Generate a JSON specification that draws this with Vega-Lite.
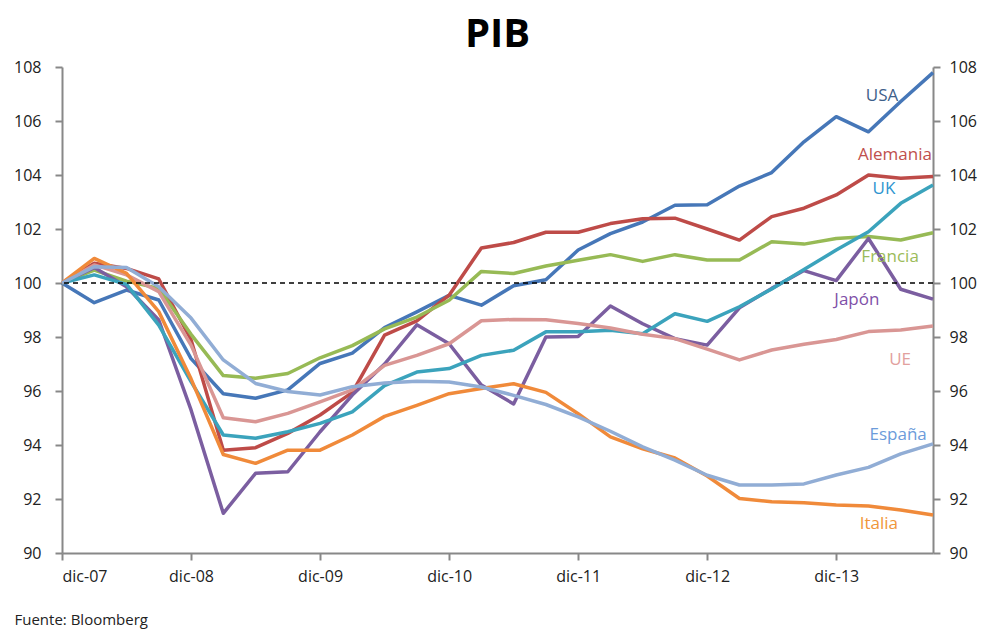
{
  "$schema": "https://vega.github.io/schema/vega-lite/v6.json",
  "width": 871,
  "height": 486,
  "autosize": "none",
  "padding": {"left": 62, "top": 67, "right": 53, "bottom": 78},
  "background": "white",
  "title": {"text": "PIB", "font": "Open Sans", "fontSize": 40, "fontWeight": "bold", "color": "#000000", "anchor": "middle", "offset": 4},
  "config": {"view": {"stroke": null}, "font": "Open Sans"},
  "datasets": {
    "pib": [
      {"p":"USA","i":0,"v":100},{"p":"USA","i":1,"v":99.27},{"p":"USA","i":2,"v":99.74},{"p":"USA","i":3,"v":99.37},{"p":"USA","i":4,"v":97.2},{"p":"USA","i":5,"v":95.9},{"p":"USA","i":6,"v":95.73},{"p":"USA","i":7,"v":96.04},{"p":"USA","i":8,"v":97.02},{"p":"USA","i":9,"v":97.4},{"p":"USA","i":10,"v":98.35},{"p":"USA","i":11,"v":98.93},{"p":"USA","i":12,"v":99.54},{"p":"USA","i":13,"v":99.18},{"p":"USA","i":14,"v":99.9},{"p":"USA","i":15,"v":100.12},{"p":"USA","i":16,"v":101.22},{"p":"USA","i":17,"v":101.83},{"p":"USA","i":18,"v":102.26},{"p":"USA","i":19,"v":102.88},{"p":"USA","i":20,"v":102.9},{"p":"USA","i":21,"v":103.59},{"p":"USA","i":22,"v":104.09},{"p":"USA","i":23,"v":105.23},{"p":"USA","i":24,"v":106.16},{"p":"USA","i":25,"v":105.6},{"p":"USA","i":26,"v":106.72},{"p":"USA","i":27,"v":107.79},
      {"p":"Alemania","i":0,"v":100},{"p":"Alemania","i":1,"v":100.73},{"p":"Alemania","i":2,"v":100.54},{"p":"Alemania","i":3,"v":100.15},{"p":"Alemania","i":4,"v":97.9},{"p":"Alemania","i":5,"v":93.81},{"p":"Alemania","i":6,"v":93.9},{"p":"Alemania","i":7,"v":94.43},{"p":"Alemania","i":8,"v":95.11},{"p":"Alemania","i":9,"v":95.95},{"p":"Alemania","i":10,"v":98.07},{"p":"Alemania","i":11,"v":98.6},{"p":"Alemania","i":12,"v":99.55},{"p":"Alemania","i":13,"v":101.3},{"p":"Alemania","i":14,"v":101.5},{"p":"Alemania","i":15,"v":101.88},{"p":"Alemania","i":16,"v":101.88},{"p":"Alemania","i":17,"v":102.2},{"p":"Alemania","i":18,"v":102.38},{"p":"Alemania","i":19,"v":102.4},{"p":"Alemania","i":20,"v":102.0},{"p":"Alemania","i":21,"v":101.59},{"p":"Alemania","i":22,"v":102.46},{"p":"Alemania","i":23,"v":102.77},{"p":"Alemania","i":24,"v":103.26},{"p":"Alemania","i":25,"v":104.0},{"p":"Alemania","i":26,"v":103.88},{"p":"Alemania","i":27,"v":103.94},
      {"p":"Francia","i":0,"v":100},{"p":"Francia","i":1,"v":100.48},{"p":"Francia","i":2,"v":100.07},{"p":"Francia","i":3,"v":99.8},{"p":"Francia","i":4,"v":98.1},{"p":"Francia","i":5,"v":96.57},{"p":"Francia","i":6,"v":96.47},{"p":"Francia","i":7,"v":96.65},{"p":"Francia","i":8,"v":97.23},{"p":"Francia","i":9,"v":97.68},{"p":"Francia","i":10,"v":98.3},{"p":"Francia","i":11,"v":98.74},{"p":"Francia","i":12,"v":99.36},{"p":"Francia","i":13,"v":100.43},{"p":"Francia","i":14,"v":100.35},{"p":"Francia","i":15,"v":100.63},{"p":"Francia","i":16,"v":100.84},{"p":"Francia","i":17,"v":101.05},{"p":"Francia","i":18,"v":100.8},{"p":"Francia","i":19,"v":101.05},{"p":"Francia","i":20,"v":100.85},{"p":"Francia","i":21,"v":100.85},{"p":"Francia","i":22,"v":101.53},{"p":"Francia","i":23,"v":101.44},{"p":"Francia","i":24,"v":101.65},{"p":"Francia","i":25,"v":101.72},{"p":"Francia","i":26,"v":101.59},{"p":"Francia","i":27,"v":101.86},
      {"p":"Japón","i":0,"v":100},{"p":"Japón","i":1,"v":100.57},{"p":"Japón","i":2,"v":99.86},{"p":"Japón","i":3,"v":98.63},{"p":"Japón","i":4,"v":95.3},{"p":"Japón","i":5,"v":91.47},{"p":"Japón","i":6,"v":92.95},{"p":"Japón","i":7,"v":93.01},{"p":"Japón","i":8,"v":94.49},{"p":"Japón","i":9,"v":95.85},{"p":"Japón","i":10,"v":97.0},{"p":"Japón","i":11,"v":98.45},{"p":"Japón","i":12,"v":97.75},{"p":"Japón","i":13,"v":96.22},{"p":"Japón","i":14,"v":95.52},{"p":"Japón","i":15,"v":98.0},{"p":"Japón","i":16,"v":98.02},{"p":"Japón","i":17,"v":99.15},{"p":"Japón","i":18,"v":98.49},{"p":"Japón","i":19,"v":97.94},{"p":"Japón","i":20,"v":97.7},{"p":"Japón","i":21,"v":99.08},{"p":"Japón","i":22,"v":99.8},{"p":"Japón","i":23,"v":100.46},{"p":"Japón","i":24,"v":100.09},{"p":"Japón","i":25,"v":101.65},{"p":"Japón","i":26,"v":99.77},{"p":"Japón","i":27,"v":99.4},
      {"p":"UK","i":0,"v":100},{"p":"UK","i":1,"v":100.3},{"p":"UK","i":2,"v":99.95},{"p":"UK","i":3,"v":98.44},{"p":"UK","i":4,"v":96.35},{"p":"UK","i":5,"v":94.37},{"p":"UK","i":6,"v":94.25},{"p":"UK","i":7,"v":94.49},{"p":"UK","i":8,"v":94.8},{"p":"UK","i":9,"v":95.23},{"p":"UK","i":10,"v":96.2},{"p":"UK","i":11,"v":96.7},{"p":"UK","i":12,"v":96.83},{"p":"UK","i":13,"v":97.32},{"p":"UK","i":14,"v":97.51},{"p":"UK","i":15,"v":98.19},{"p":"UK","i":16,"v":98.19},{"p":"UK","i":17,"v":98.25},{"p":"UK","i":18,"v":98.12},{"p":"UK","i":19,"v":98.86},{"p":"UK","i":20,"v":98.58},{"p":"UK","i":21,"v":99.12},{"p":"UK","i":22,"v":99.78},{"p":"UK","i":23,"v":100.5},{"p":"UK","i":24,"v":101.22},{"p":"UK","i":25,"v":101.9},{"p":"UK","i":26,"v":102.95},{"p":"UK","i":27,"v":103.63},
      {"p":"UE","i":0,"v":100},{"p":"UE","i":1,"v":100.67},{"p":"UE","i":2,"v":100.3},{"p":"UE","i":3,"v":99.68},{"p":"UE","i":4,"v":97.7},{"p":"UE","i":5,"v":95.01},{"p":"UE","i":6,"v":94.86},{"p":"UE","i":7,"v":95.17},{"p":"UE","i":8,"v":95.6},{"p":"UE","i":9,"v":96.04},{"p":"UE","i":10,"v":96.95},{"p":"UE","i":11,"v":97.32},{"p":"UE","i":12,"v":97.75},{"p":"UE","i":13,"v":98.6},{"p":"UE","i":14,"v":98.65},{"p":"UE","i":15,"v":98.64},{"p":"UE","i":16,"v":98.5},{"p":"UE","i":17,"v":98.33},{"p":"UE","i":18,"v":98.1},{"p":"UE","i":19,"v":97.94},{"p":"UE","i":20,"v":97.55},{"p":"UE","i":21,"v":97.15},{"p":"UE","i":22,"v":97.52},{"p":"UE","i":23,"v":97.73},{"p":"UE","i":24,"v":97.91},{"p":"UE","i":25,"v":98.2},{"p":"UE","i":26,"v":98.26},{"p":"UE","i":27,"v":98.41},
      {"p":"Italia","i":0,"v":100},{"p":"Italia","i":1,"v":100.91},{"p":"Italia","i":2,"v":100.36},{"p":"Italia","i":3,"v":98.94},{"p":"Italia","i":4,"v":96.45},{"p":"Italia","i":5,"v":93.65},{"p":"Italia","i":6,"v":93.32},{"p":"Italia","i":7,"v":93.81},{"p":"Italia","i":8,"v":93.81},{"p":"Italia","i":9,"v":94.37},{"p":"Italia","i":10,"v":95.06},{"p":"Italia","i":11,"v":95.47},{"p":"Italia","i":12,"v":95.9},{"p":"Italia","i":13,"v":96.09},{"p":"Italia","i":14,"v":96.27},{"p":"Italia","i":15,"v":95.95},{"p":"Italia","i":16,"v":95.16},{"p":"Italia","i":17,"v":94.3},{"p":"Italia","i":18,"v":93.86},{"p":"Italia","i":19,"v":93.52},{"p":"Italia","i":20,"v":92.85},{"p":"Italia","i":21,"v":92.02},{"p":"Italia","i":22,"v":91.9},{"p":"Italia","i":23,"v":91.86},{"p":"Italia","i":24,"v":91.78},{"p":"Italia","i":25,"v":91.74},{"p":"Italia","i":26,"v":91.59},{"p":"Italia","i":27,"v":91.41},
      {"p":"España","i":0,"v":100},{"p":"España","i":1,"v":100.6},{"p":"España","i":2,"v":100.57},{"p":"España","i":3,"v":99.86},{"p":"España","i":4,"v":98.7},{"p":"España","i":5,"v":97.15},{"p":"España","i":6,"v":96.28},{"p":"España","i":7,"v":95.98},{"p":"España","i":8,"v":95.85},{"p":"España","i":9,"v":96.16},{"p":"España","i":10,"v":96.3},{"p":"España","i":11,"v":96.36},{"p":"España","i":12,"v":96.33},{"p":"España","i":13,"v":96.15},{"p":"España","i":14,"v":95.84},{"p":"España","i":15,"v":95.5},{"p":"España","i":16,"v":95.04},{"p":"España","i":17,"v":94.51},{"p":"España","i":18,"v":93.93},{"p":"España","i":19,"v":93.44},{"p":"España","i":20,"v":92.88},{"p":"España","i":21,"v":92.52},{"p":"España","i":22,"v":92.52},{"p":"España","i":23,"v":92.56},{"p":"España","i":24,"v":92.89},{"p":"España","i":25,"v":93.17},{"p":"España","i":26,"v":93.67},{"p":"España","i":27,"v":94.04}
    ],
    "labels": [
      {"p":"USA","i":25.42,"v":106.93},
      {"p":"Alemania","i":25.82,"v":104.74},
      {"p":"UK","i":25.48,"v":103.48},
      {"p":"Francia","i":25.67,"v":100.96},
      {"p":"Japón","i":24.64,"v":99.37},
      {"p":"UE","i":25.98,"v":97.15},
      {"p":"España","i":25.92,"v":94.37},
      {"p":"Italia","i":25.32,"v":91.07}
    ],
    "ref": [{"v": 100}]
  },
  "layer": [
    {
      "data": {"name": "pib"},
      "mark": {"type": "line", "strokeWidth": 3.5, "strokeJoin": "round"},
      "encoding": {
        "x": {"field": "i", "type": "quantitative", "scale": {"domain": [0, 27], "nice": false, "zero": false},
          "axis": {"values": [0, 4, 8, 12, 16, 20, 24], "labelExpr": "'dic-' + format(7 + datum.value / 4, '02d')", "grid": false,
            "domainColor": "#888888", "domainWidth": 2, "tickColor": "#888888", "tickWidth": 2, "tickSize": 7,
            "labelFontSize": 16, "labelColor": "#222222", "labelPadding": 8, "labelFont": "Open Sans",
            "title": "Fuente: Bloomberg", "titleFont": "Open Sans", "titleFontSize": 15, "titleFontWeight": "normal", "titleColor": "#222222",
            "titleAlign": "left", "titleAnchor": "start", "titleBaseline": "alphabetic", "titleX": -48, "titleY": 71}},
        "y": {"field": "v", "type": "quantitative", "scale": {"domain": [90, 108], "nice": false, "zero": false},
          "axis": {"orient": "left", "values": [90, 92, 94, 96, 98, 100, 102, 104, 106, 108], "grid": false, "title": null,
            "domainColor": "#888888", "domainWidth": 2, "tickColor": "#888888", "tickWidth": 2, "tickSize": 7,
            "labelFontSize": 16, "labelColor": "#222222", "labelPadding": 14, "labelFont": "Open Sans"}},
        "color": {"field": "p", "type": "nominal", "legend": null,
          "scale": {"domain": ["USA", "Alemania", "Francia", "Japón", "UK", "UE", "Italia", "España"],
            "range": ["#4677B8", "#BE4B48", "#97BA55", "#7B5EA0", "#3BA3BC", "#D99694", "#F08A3A", "#91ADD5"]}}
      }
    },
    {
      "data": {"name": "ref"},
      "mark": {"type": "rule", "color": "#000000", "strokeDash": [5, 4], "strokeWidth": 1.3},
      "encoding": {"y": {"field": "v", "type": "quantitative", "axis": null}}
    },
    {
      "data": {"name": "labels"},
      "mark": {"type": "text", "font": "Open Sans", "fontSize": 17, "align": "center", "baseline": "middle"},
      "encoding": {
        "x": {"field": "i", "type": "quantitative", "axis": {"title": "Fuente: Bloomberg"}},
        "y": {"field": "v", "type": "quantitative",
          "axis": {"orient": "right", "values": [90, 92, 94, 96, 98, 100, 102, 104, 106, 108], "grid": false, "title": null,
            "domainColor": "#888888", "domainWidth": 2, "tickColor": "#888888", "tickWidth": 2, "tickSize": 7,
            "labelFontSize": 16, "labelColor": "#222222", "labelPadding": 9, "labelFont": "Open Sans"}},
        "text": {"field": "p", "type": "nominal"},
        "color": {"field": "p", "type": "nominal", "legend": null,
          "scale": {"domain": ["USA", "Alemania", "UK", "Francia", "Japón", "UE", "España", "Italia"],
            "range": ["#3E5F8A", "#C0504D", "#2E95D0", "#9BBB59", "#8050A8", "#E2A09E", "#6C9BDA", "#F0963A"]}}
      }
    }
  ],
  "resolve": {"scale": {"color": "independent"}, "axis": {"y": "independent"}}
}
